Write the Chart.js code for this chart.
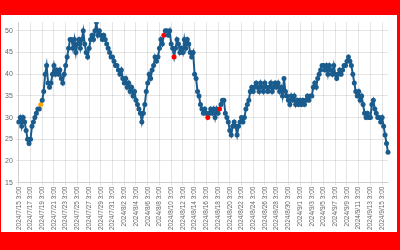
<!DOCTYPE html>
<html>
<head>
<meta charset="utf-8">
<script src="https://cdn.jsdelivr.net/npm/chart.js@4"></script>
<style>
  html, body { margin: 0; padding: 0; background: #ff0000; width: 400px; height: 250px; overflow: hidden; }
  #wrap { position: absolute; left: 1px; top: 15px; width: 396px; height: 217px; background: #fff; }
</style>
</head>
<body>
<div id="wrap"><canvas id="chart" width="396" height="217"></canvas></div>
<script>
// Readings every 6 hours, starting 2024/7/15 3:00
const startTime = new Date(2024, 6, 15, 3, 0);
const stepHours = 6;
const labelEvery = 8; // one label each 2 days

const values = [
  29, 30, 28, 30,   29, 27, 25, 24,   25, 28, 29, 30,   31, 32, 32, 33,
  34, 36, 40, 42,   38, 37, 38, 40,   42, 40, 41, 40,   41, 39, 38, 40,
  42, 44, 46, 48,   48, 46, 48, 45,   47, 48, 46, 48,   50, 47, 45, 44,
  46, 48, 49, 48,   50, 52, 49, 50,   49, 48, 49, 48,   47, 46, 45, 44,
  44, 43, 42, 42,   41, 40, 41, 39,   38, 39, 37, 38,   36, 37, 35, 36,
  34, 33, 32, 31,   29, 31, 33, 36,   38, 40, 39, 41,   42, 44, 43, 44,
  46, 48, 47, 49,   50, 50, 49, 50,   47, 46, 44, 46,   48, 47, 45, 46,
  45, 48, 46, 48,   47, 45, 44, 45,   40, 39, 36, 35,   33, 32, 31, 32,
  31, 30, 31, 32,   31, 32, 30, 32,   31, 32, 33, 34,   34, 31, 30, 29,
  27, 26, 28, 29,   28, 26, 28, 29,   30, 29, 30, 32,   33, 34, 36, 37,
  36, 37, 38, 37,   36, 38, 37, 36,   38, 37, 36, 37,   38, 36, 37, 38,
  37, 38, 36, 37,   35, 39, 36, 35,   34, 33, 35, 34,   35, 33, 34, 33,
  34, 33, 34, 33,   34, 35, 34, 35,   35, 37, 38, 37,   39, 40, 41, 42,
  42, 41, 42, 40,   42, 41, 40, 42,   40, 39, 40, 41,   40, 41, 42, 42,
  43, 44, 43, 42,   40, 38, 36, 35,   36, 34, 35, 33,   31, 30, 31, 30,
  30, 33, 34, 32,   31, 30, 30, 29,   30, 28, 26, 24,   22
];

// highlighted readings
const orangeIdx = [15];
const redIdx = [99, 106, 129, 137];

const yMin = 15;
const yMax = 52;
const yStep = 5;

const lineColor = '#1a5c8e';

const categories = values.map((v, i) => {
  const t = new Date(startTime.getTime() + i * stepHours * 3600 * 1000);
  return t.getFullYear() + '/' + (t.getMonth() + 1) + '/' + t.getDate() + ' ' + t.getHours() + ':00';
});

const pointColors = values.map((v, i) => {
  if (orangeIdx.includes(i)) return '#ffa500';
  if (redIdx.includes(i)) return '#ff0000';
  return lineColor;
});

const ctx = document.getElementById('chart').getContext('2d');
new Chart(ctx, {
  type: 'line',
  data: {
    labels: categories,
    datasets: [{
      data: values,
      borderColor: lineColor,
      borderWidth: 2,
      pointRadius: 2.5,
      pointBorderWidth: 0,
      pointBackgroundColor: pointColors,
      pointBorderColor: pointColors,
      tension: 0,
      fill: false
    }]
  },
  options: {
    responsive: false,
    animation: false,
    layout: { padding: { top: 6, right: 9, left: 1, bottom: 1 } },
    plugins: {
      legend: { display: false },
      tooltip: { enabled: false }
    },
    scales: {
      x: {
        grid: { color: 'rgba(0,0,0,0.1)', tickLength: 3 },
        ticks: {
          autoSkip: false,
          minRotation: 90,
          maxRotation: 90,
          padding: 1,
          color: '#666',
          font: { size: 6.5, family: 'Liberation Sans, Arial, sans-serif' },
          callback: function(value, index) {
            return index % labelEvery === 0 ? categories[index] : null;
          }
        }
      },
      y: {
        min: yMin,
        max: yMax,
        grid: { color: 'rgba(0,0,0,0.1)', tickLength: 3 },
        ticks: {
          stepSize: yStep,
          includeBounds: false,
          padding: 3,
          color: '#666',
          font: { size: 7, family: 'Liberation Sans, Arial, sans-serif' }
        }
      }
    }
  }
});
</script>
</body>
</html>
